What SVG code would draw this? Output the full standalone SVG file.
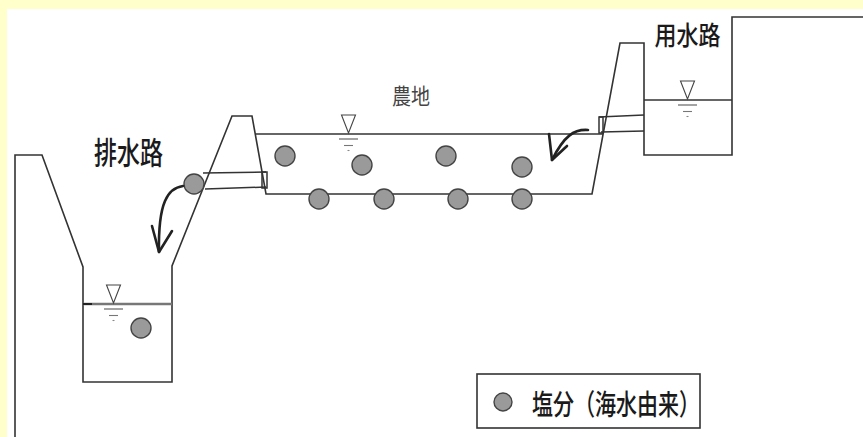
<svg xmlns="http://www.w3.org/2000/svg" width="863" height="437" viewBox="0 0 863 437">
  <style>
    .wall { fill: none; stroke: #333; stroke-width: 1.6; stroke-linejoin: miter; }
    .pipe { fill: none; stroke: #333; stroke-width: 1.5; }
    .salt { fill: #9a9a9a; stroke: #444; stroke-width: 1.4; }
    .flow { fill: none; stroke: #222; stroke-width: 2.6; stroke-linecap: round; stroke-linejoin: round; }
    .label { font-family: "Noto Sans CJK JP", "Noto Sans CJK SC", sans-serif; fill: #1a1a1a; font-weight: 500; }
    .water { stroke: #333; stroke-width: 1.6; }
  </style>
  <defs>
    <!-- water-level mark: inverted triangle with ground ticks; origin on the water line -->
    <g id="level">
      <polygon points="-7,-19 7,-19 0,-1" fill="#fff" stroke="#444" stroke-width="1.1"/>
      <line x1="-9.5" y1="5" x2="9.5" y2="5" stroke="#666" stroke-width="1.2"/>
      <line x1="-4.5" y1="11.5" x2="4.5" y2="11.5" stroke="#777" stroke-width="1.1"/>
      <line x1="-1" y1="16.5" x2="1" y2="16.5" stroke="#888" stroke-width="1.1"/>
    </g>
  </defs>

  <!-- frame -->
  <rect x="0" y="0" width="863" height="437" fill="#ffffcc"/>
  <rect x="7" y="9" width="856" height="428" fill="#ffffff"/>

  <!-- ground profile: drain, dike, field, dike, supply channel -->
  <g id="ground">
    <polyline class="wall" points="15,437 15,155 42,155 83,267 83,382 172,382 172,266 232,116 252,116 266,194 592,194 620,43 644,43 644,155 732,155 732,17 863,17"/>
  </g>

  <!-- drainage channel -->
  <g id="drain">
    <line x1="83" y1="304" x2="172" y2="304" stroke="#777" stroke-width="2.6"/>
    <line x1="83" y1="304" x2="92" y2="304" stroke="#222" stroke-width="2"/>
    <use href="#level" x="113.5" y="304"/>
    <circle class="salt" cx="141" cy="328" r="10"/>
    <g class="label" transform="translate(128.5,164) scale(1,1.35)">
      <text x="0" y="0" font-size="23" text-anchor="middle">排水路</text>
    </g>
  </g>

  <!-- farmland -->
  <g id="field">
    <line class="water" x1="256" y1="134" x2="603" y2="134"/>
    <use href="#level" x="348.5" y="134"/>
    <circle class="salt" cx="285" cy="156" r="10"/>
    <circle class="salt" cx="362" cy="165" r="10"/>
    <circle class="salt" cx="446" cy="156" r="10"/>
    <circle class="salt" cx="522" cy="167" r="10"/>
    <circle class="salt" cx="319" cy="199" r="10"/>
    <circle class="salt" cx="384" cy="199" r="10"/>
    <circle class="salt" cx="458" cy="199" r="10"/>
    <circle class="salt" cx="522" cy="199" r="10"/>
    <g class="label" transform="translate(411,104) scale(1,1.15)">
      <text x="0" y="0" font-size="19" text-anchor="middle" fill="#444" font-weight="400">農地</text>
    </g>
  </g>

  <!-- supply channel -->
  <g id="supply">
    <line class="water" x1="644" y1="100" x2="732" y2="100"/>
    <use href="#level" x="687.5" y="100"/>
    <g class="label" transform="translate(687.5,45) scale(1,1.2)">
      <text x="0" y="0" font-size="22" text-anchor="middle">用水路</text>
    </g>
  </g>

  <!-- inlet and outlet pipes -->
  <g id="inlet-pipe">
    <line class="pipe" x1="599" y1="117" x2="644" y2="115"/>
    <line class="pipe" x1="601" y1="132" x2="644" y2="131"/>
    <rect class="pipe" x="599" y="117" width="4" height="16"/>
  </g>
  <g id="outlet-pipe">
    <line class="pipe" x1="203" y1="173" x2="266" y2="172"/>
    <line class="pipe" x1="205" y1="189" x2="266" y2="187"/>
    <rect class="pipe" x="262" y="172" width="5" height="16"/>
    <circle class="salt" cx="194" cy="184" r="10"/>
  </g>

  <!-- flow arrows -->
  <g id="connectors">
    <path class="flow" d="M588,130 C574,129 564,136 552,160"/>
    <path class="flow" d="M549,134 L552,160 L567,146"/>
    <path class="flow" d="M183,186 C168,188 158,202 159,252"/>
    <path class="flow" d="M152,226 L159,252 L172,231"/>
  </g>

  <!-- legend -->
  <g id="legend">
    <rect x="477" y="374" width="223" height="54" fill="#fff" stroke="#333" stroke-width="1.6"/>
    <circle class="salt" cx="503" cy="402" r="9"/>
    <g class="label" transform="translate(532,415) scale(1,1.38)">
      <text x="0" y="0" font-size="21">塩分（海水由来）</text>
    </g>
  </g>
</svg>
